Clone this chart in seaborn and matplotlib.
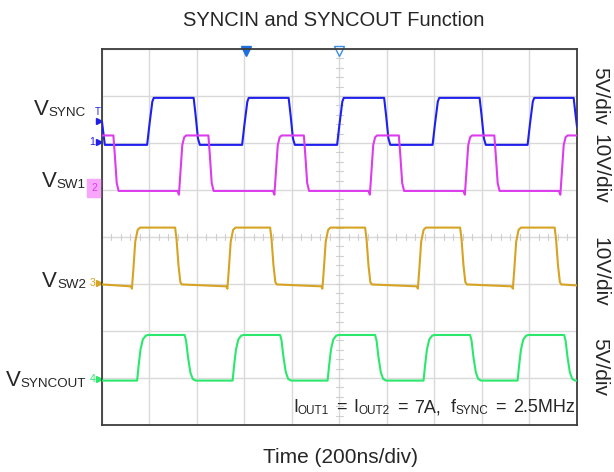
import numpy as np
import pandas as pd
import matplotlib
matplotlib.use('Agg')
import matplotlib.pyplot as plt
import seaborn as sns

# ------------------------------------------------------------
# Scope traces (time in div, level in div)
# ------------------------------------------------------------
SYNC_T = [0.00, 0.06,
          0.95, 1.00, 1.06, 1.09, 1.93, 1.97, 2.02, 2.06,
          2.95, 3.00, 3.06, 3.09, 3.93, 3.97, 4.02, 4.06,
          4.95, 5.00, 5.06, 5.09, 5.94, 5.98, 6.03, 6.07,
          6.96, 7.01, 7.07, 7.10, 7.95, 7.99, 8.04, 8.08,
          8.96, 9.01, 9.07, 9.10, 9.93, 9.97, 10.00]
SYNC_V = [6.45, 5.96,
          5.96, 6.40, 6.88, 6.96, 6.96, 6.60, 6.10, 5.96,
          5.96, 6.40, 6.88, 6.96, 6.96, 6.60, 6.10, 5.96,
          5.96, 6.40, 6.88, 6.96, 6.96, 6.60, 6.10, 5.96,
          5.96, 6.40, 6.88, 6.96, 6.96, 6.60, 6.10, 5.96,
          5.96, 6.40, 6.88, 6.96, 6.96, 6.60, 6.35]

SW1_T = [0.00, 0.24, 0.27, 0.31, 0.35,
         1.59, 1.62, 1.65, 1.69, 1.73, 1.77, 2.24, 2.27, 2.31, 2.35,
         3.60, 3.63, 3.66, 3.70, 3.74, 3.78, 4.25, 4.28, 4.32, 4.36,
         5.61, 5.64, 5.67, 5.71, 5.75, 5.79, 6.25, 6.28, 6.32, 6.36,
         7.61, 7.64, 7.67, 7.71, 7.75, 7.79, 8.26, 8.29, 8.33, 8.37,
         9.62, 9.65, 9.68, 9.72, 9.76, 9.80, 10.00]
SW1_V = [6.16, 6.16, 5.75, 5.15, 4.98,
         4.98, 4.90, 5.35, 5.95, 6.12, 6.16, 6.16, 5.75, 5.15, 4.98,
         4.98, 4.90, 5.35, 5.95, 6.12, 6.16, 6.16, 5.75, 5.15, 4.98,
         4.98, 4.90, 5.35, 5.95, 6.12, 6.16, 6.16, 5.75, 5.15, 4.98,
         4.98, 4.90, 5.35, 5.95, 6.12, 6.16, 6.16, 5.75, 5.15, 4.98,
         4.98, 4.90, 5.35, 5.95, 6.12, 6.16, 6.16]

SW2_T = [0.00,
         0.61, 0.63, 0.66, 0.70, 0.75, 0.80, 1.54, 1.57, 1.61, 1.65, 1.68,
         2.62, 2.64, 2.67, 2.71, 2.76, 2.81, 3.54, 3.57, 3.61, 3.65, 3.68,
         4.62, 4.64, 4.67, 4.71, 4.76, 4.81, 5.54, 5.57, 5.61, 5.65, 5.68,
         6.63, 6.65, 6.68, 6.72, 6.77, 6.82, 7.54, 7.57, 7.61, 7.65, 7.68,
         8.63, 8.65, 8.68, 8.72, 8.77, 8.82, 9.53, 9.56, 9.60, 9.64, 9.67,
         10.00]
SW2_V = [2.99,
         2.95, 2.90, 3.30, 3.90, 4.15, 4.20, 4.20, 3.95, 3.40, 3.04, 2.99,
         2.95, 2.90, 3.30, 3.90, 4.15, 4.20, 4.20, 3.95, 3.40, 3.04, 2.99,
         2.95, 2.90, 3.30, 3.90, 4.15, 4.20, 4.20, 3.95, 3.40, 3.04, 2.99,
         2.95, 2.90, 3.30, 3.90, 4.15, 4.20, 4.20, 3.95, 3.40, 3.04, 2.99,
         2.95, 2.90, 3.30, 3.90, 4.15, 4.20, 4.20, 3.95, 3.40, 3.04, 2.99,
         2.97]

SYNCOUT_T = [0.00,
             0.74, 0.77, 0.81, 0.86, 0.92, 0.97, 1.74, 1.77, 1.81, 1.86, 1.91, 1.97,
             2.75, 2.78, 2.82, 2.87, 2.93, 2.98, 3.75, 3.78, 3.82, 3.87, 3.92, 3.98,
             4.75, 4.78, 4.82, 4.87, 4.93, 4.98, 5.75, 5.78, 5.82, 5.87, 5.92, 5.98,
             6.77, 6.80, 6.84, 6.89, 6.95, 7.00, 7.75, 7.78, 7.82, 7.87, 7.92, 7.98,
             8.75, 8.78, 8.82, 8.87, 8.93, 8.98, 9.73, 9.76, 9.80, 9.85, 9.90, 9.96,
             10.00]
SYNCOUT_V = [0.945,
             0.945, 1.25, 1.60, 1.82, 1.90, 1.915, 1.915, 1.80, 1.45, 1.12, 0.98, 0.945,
             0.945, 1.25, 1.60, 1.82, 1.90, 1.915, 1.915, 1.80, 1.45, 1.12, 0.98, 0.945,
             0.945, 1.25, 1.60, 1.82, 1.90, 1.915, 1.915, 1.80, 1.45, 1.12, 0.98, 0.945,
             0.945, 1.25, 1.60, 1.82, 1.90, 1.915, 1.915, 1.80, 1.45, 1.12, 0.98, 0.945,
             0.945, 1.25, 1.60, 1.82, 1.90, 1.915, 1.915, 1.80, 1.45, 1.12, 0.98, 0.945,
             0.945]

SIGNALS = ['VSYNC', 'VSW1', 'VSW2', 'VSYNCOUT']
COLORS = ['#2020ee', '#dd3cee', '#d6a322', '#2ae86c']
LABEL_SUB = ['SYNC', 'SW1', 'SW2', 'SYNCOUT']
LABEL_Y = [6.60, 5.06, 2.94, 0.84]
CH_NUM = ['1', '2', '3', '4']
CH_GND = [6.03, 5.04, 3.02, 0.98]
SCALES = ['5V/div', '10V/div', '10V/div', '5V/div']
SCALE_Y = [0.796, 0.642, 0.425, 0.223]

sns.set_style('white')
plt.rcParams['font.family'] = ['Liberation Sans', 'DejaVu Sans']

df = pd.concat([
    pd.DataFrame({'time': SYNC_T, 'level': SYNC_V, 'signal': 'VSYNC'}),
    pd.DataFrame({'time': SW1_T, 'level': SW1_V, 'signal': 'VSW1'}),
    pd.DataFrame({'time': SW2_T, 'level': SW2_V, 'signal': 'VSW2'}),
    pd.DataFrame({'time': SYNCOUT_T, 'level': SYNCOUT_V, 'signal': 'VSYNCOUT'}),
], ignore_index=True)

fig = plt.figure(figsize=(6.14, 4.72), dpi=100)
ax = fig.add_axes([0.1661, 0.0996, 0.7736, 0.7966])
renderer = fig.canvas.get_renderer()


def rich_text(x, y, parts):
    """Right-aligned text made of pieces (text, size, baseline shift, gap after)."""
    objs = []
    off = 0.0
    for s, size, dy, gap in parts:
        t = ax.annotate(s, xy=(x, y), xytext=(off, dy), textcoords='offset points',
                        fontsize=size, ha='left', va='baseline',
                        annotation_clip=False)
        off += t.get_window_extent(renderer).width * 72 / fig.dpi + gap
        objs.append(t)
    for t in objs:
        px, py = t.get_position()
        t.set_position((px - off, py))


# grid (10 x 8 divisions) and centre tick marks
ax.set_xlim(0, 10)
ax.set_ylim(0, 8)
ax.set_xticks(range(11))
ax.set_yticks(range(9))
ax.grid(True, color='#d9d9d9', lw=1.0)
ax.tick_params(length=0, labelbottom=False, labelleft=False)
for t in np.arange(0.2, 10, 0.2):
    ax.plot([t, t], [3.93, 4.07], color='#cfcfcf', lw=0.8, zorder=1)
for v in np.arange(0.2, 8, 0.2):
    ax.plot([4.93, 5.07], [v, v], color='#cfcfcf', lw=0.8, zorder=1)
for s in ax.spines.values():
    s.set_color('#3c3c3c')
    s.set_linewidth(1.3)

sns.lineplot(data=df, x='time', y='level', hue='signal', hue_order=SIGNALS,
             palette=COLORS, sort=False, estimator=None, lw=1.5,
             legend=False, ax=ax, zorder=3)
ax.set_xlabel('')
ax.set_ylabel('')

# channel labels and ground markers on the left
for sub, y, num, g, c in zip(LABEL_SUB, LABEL_Y, CH_NUM, CH_GND, COLORS):
    rich_text(-0.34, y, [('V', 16, 0, 0), (sub, 9.6, -0.9, 0)])
    ax.plot([-0.06], [g], marker='>', color=c, ms=5, clip_on=False)
    if num == '2':
        ax.text(-0.17, g, num, ha='center', va='center', fontsize=7.5,
                color=c, clip_on=False,
                bbox=dict(boxstyle='square,pad=0.35', fc='#f7a6fb',
                          ec='#f7a6fb'))
    else:
        ax.text(-0.2, g, num, ha='center', va='center', fontsize=7.5,
                color=c, clip_on=False)
ax.text(-0.08, 6.67, 'T', ha='center', va='center', fontsize=7,
        color=COLORS[0], clip_on=False)
ax.plot([-0.06], [6.47], marker='>', color=COLORS[0], ms=5, clip_on=False)

# trigger / position markers on the top edge
ax.plot([3.03], [7.95], marker='v', color='#1e6fe0', ms=7, clip_on=False)
ax.plot([5.0], [7.95], marker='v', mfc='white', mec='#3a8ee8', ms=7,
        clip_on=False)

# operating conditions
rich_text(9.95, 0.27, [
    ('I', 13, 0, 0), ('OUT1', 8.5, -1.2, 5), ('=', 13, 0, 5),
    ('I', 13, 0, 0), ('OUT2', 8.5, -1.2, 5), ('=', 13, 0, 5),
    ('7A,', 13, 0, 7),
    ('f', 13, 0, 0), ('SYNC', 8.5, -1.2, 5), ('=', 13, 0, 5),
    ('2.5MHz', 13, 0, 0),
])

for txt, y in zip(SCALES, SCALE_Y):
    fig.text(0.977, y, txt, rotation=270, ha='center', va='center',
             fontsize=15)

fig.text(0.544, 0.957, 'SYNCIN and SYNCOUT Function', ha='center',
         va='center', fontsize=14.5)
fig.text(0.5546, 0.030, 'Time (200ns/div)', ha='center', va='center',
         fontsize=15)

fig.savefig('out.png', dpi=100)
